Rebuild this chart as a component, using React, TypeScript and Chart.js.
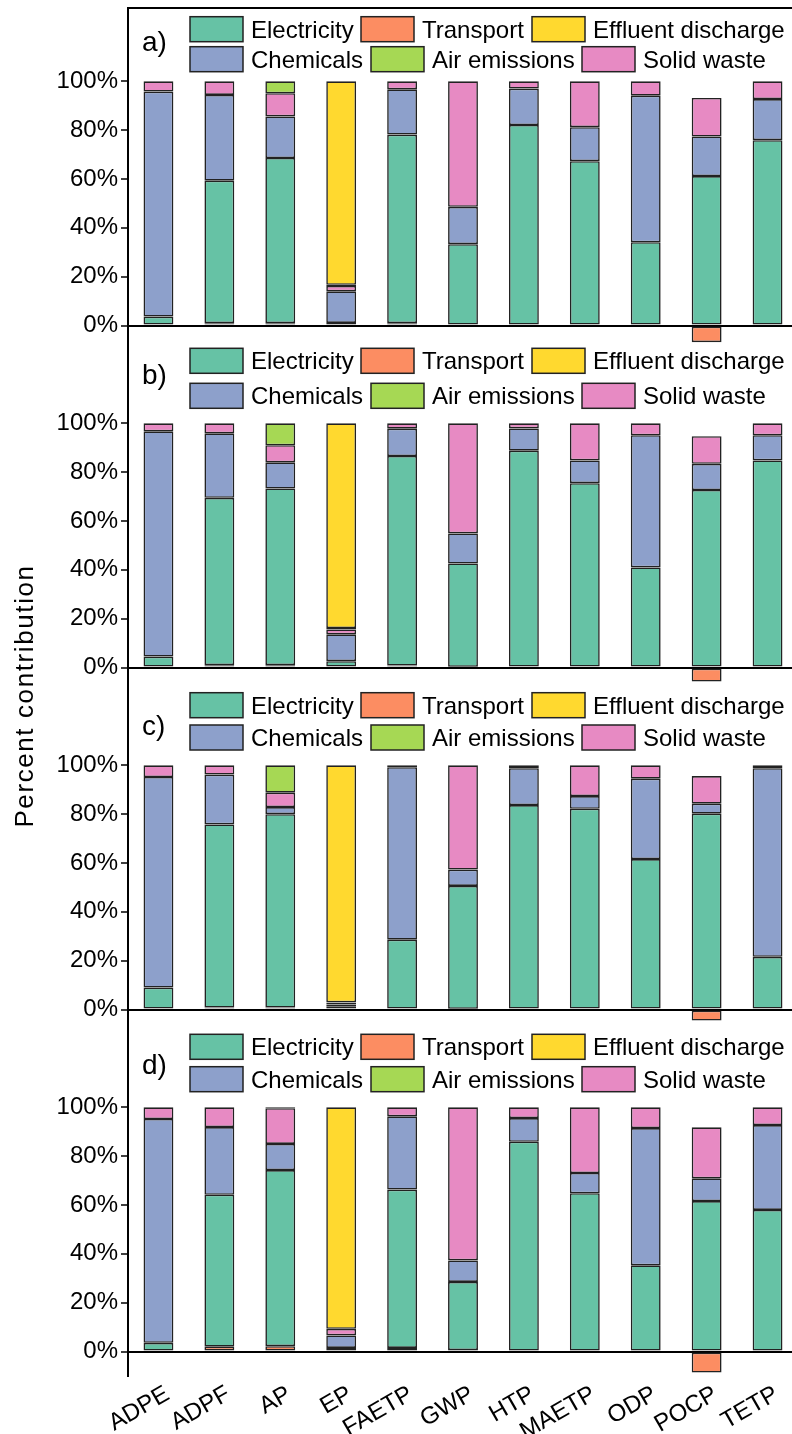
import { useEffect, useRef } from 'react';
import { Chart, registerables } from 'chart.js';

Chart.register(...registerables);

const categories = ['ADPE', 'ADPF', 'AP', 'EP', 'FAETP', 'GWP', 'HTP', 'MAETP', 'ODP', 'POCP', 'TETP'];
const panelLabels = ['a)', 'b)', 'c)', 'd)'];
const yTickValues = [0, 20, 40, 60, 80, 100];
const yTitle = 'Percent contribution';

// Panel a
const electricityA = [3.7, 58.3, 67.6, 1.1, 77.2, 32.9, 82.1, 67.3, 34.1, 61.2, 75.9];
const transportA = [0, 1.0, 1.0, 0, 1.0, 0.4, 0, 0, 0, -6.8, 0];
const effluentA = [0, 0, 0, 83.3, 0, 0, 0, 0, 0, 0, 0];
const chemicalsA = [92.1, 35.1, 17.0, 12.9, 18.5, 15.3, 14.9, 13.9, 60.0, 16.2, 16.8];
const airA = [0, 0, 4.9, 0.5, 0, 0, 0, 0, 0, 0, 0];
const solidA = [4.2, 5.6, 9.5, 2.2, 3.3, 51.4, 3.0, 18.8, 5.9, 15.8, 7.3];

// Panel b
const electricityB = [4.5, 68.5, 72.3, 2.6, 85.8, 42.3, 88.8, 75.5, 41.0, 72.7, 84.8];
const transportB = [0, 1.0, 1.0, 0, 0.8, 0.3, 0, 0, 0, -5.7, 0];
const effluentB = [0, 0, 0, 83.8, 0, 0, 0, 0, 0, 0, 0];
const chemicalsB = [92.2, 26.4, 10.7, 11.0, 11.2, 12.3, 9.1, 9.3, 54.1, 10.7, 10.3];
const airB = [0, 0, 9.0, 0.6, 0, 0, 0, 0, 0, 0, 0];
const solidB = [3.3, 4.1, 7.0, 2.0, 2.2, 45.1, 2.1, 15.2, 4.9, 11.3, 4.9];

// Panel c
const electricityC = [9.0, 75.0, 79.2, 1.2, 28.6, 50.3, 83.7, 82.2, 61.6, 80.2, 21.6];
const transportC = [0, 0.8, 0.8, 0, 0, 0.3, 0, 0, 0, -4.5, 0];
const effluentC = [0, 0, 0, 97.0, 0, 0, 0, 0, 0, 0, 0];
const chemicalsC = [86.2, 20.4, 2.9, 0.9, 70.6, 6.7, 15.1, 5.2, 32.9, 4.1, 77.2];
const airC = [0, 0, 11.2, 0.2, 0, 0, 0, 0, 0, 0, 0];
const solidC = [4.8, 3.8, 5.9, 0.7, 0.8, 42.7, 1.2, 12.6, 5.5, 11.3, 1.2];

// Panel d
const electricityD = [3.6, 62.2, 72.1, 1.5, 64.8, 27.9, 85.9, 64.8, 35.3, 61.6, 58.0];
const transportD = [0, 2.0, 2.2, 0, 1.5, 0.6, 0, 0, 0, -8.6, 0];
const effluentD = [0, 0, 0, 90.7, 0, 0, 0, 0, 0, 0, 0];
const chemicalsD = [91.6, 27.7, 10.7, 5.1, 30.0, 8.8, 9.7, 8.3, 56.2, 9.3, 34.7];
const airD = [0, 0, 0.4, 0, 0, 0, 0, 0, 0, 0, 0];
const solidD = [4.8, 8.1, 14.6, 2.7, 3.7, 62.7, 4.4, 26.9, 8.5, 20.9, 7.3];

const COLORS: Record<string, string> = {
  'Electricity': '#66c2a5',
  'Transport': '#fc8d62',
  'Effluent discharge': '#ffd92f',
  'Chemicals': '#8da0cb',
  'Air emissions': '#a6d854',
  'Solid waste': '#e78ac3',
};

const legendRow1 = ['Electricity', 'Transport', 'Effluent discharge'];
const legendRow2 = ['Chemicals', 'Air emissions', 'Solid waste'];

const panels = [
  { id: 'ya', series: { 'Transport': transportA, 'Electricity': electricityA, 'Chemicals': chemicalsA, 'Solid waste': solidA, 'Air emissions': airA, 'Effluent discharge': effluentA } },
  { id: 'yb', series: { 'Transport': transportB, 'Electricity': electricityB, 'Chemicals': chemicalsB, 'Solid waste': solidB, 'Air emissions': airB, 'Effluent discharge': effluentB } },
  { id: 'yc', series: { 'Transport': transportC, 'Electricity': electricityC, 'Chemicals': chemicalsC, 'Solid waste': solidC, 'Air emissions': airC, 'Effluent discharge': effluentC } },
  { id: 'yd', series: { 'Transport': transportD, 'Electricity': electricityD, 'Chemicals': chemicalsD, 'Solid waste': solidD, 'Air emissions': airD, 'Effluent discharge': effluentD } },
];

const FONT = '"Liberation Sans", Arial, sans-serif';

// per-panel decoration offsets (relative to panel top)
const legendRowTop1 = [8.7, -1.7, 0.7, 0.3];
const legendRowTop2 = [38.7, 33.3, 33, 32.7];
const labelCenter = [35, 26, 35.5, 32];
const legendX1 = [190, 361, 532];
const legendX2 = [190, 371, 582];

const decorPlugin = {
  id: 'panelDecor',
  afterDraw(chart: any) {
    const ctx = chart.ctx as CanvasRenderingContext2D;
    panels.forEach((p, i) => {
      const sc = chart.scales[p.id];
      const top = sc.top;
      ctx.save();
      ctx.fillStyle = '#000';
      ctx.font = `28px ${FONT}`;
      ctx.textAlign = 'left';
      ctx.textBaseline = 'middle';
      ctx.fillText(panelLabels[i], 142, top + labelCenter[i]);
      const drawRow = (names: string[], xs: number[], y: number) => {
        names.forEach((n, k) => {
          const x = xs[k];
          ctx.fillStyle = COLORS[n];
          ctx.fillRect(x, y, 53, 25);
          ctx.strokeStyle = '#222';
          ctx.lineWidth = 1.5;
          ctx.strokeRect(x, y, 53, 25);
          ctx.fillStyle = '#000';
          ctx.font = `24px ${FONT}`;
          ctx.textBaseline = 'alphabetic';
          ctx.fillText(n, x + 61, y + 12.5 + 8.5);
        });
      };
      drawRow(legendRow1, legendX1, top + legendRowTop1[i]);
      drawRow(legendRow2, legendX2, top + legendRowTop2[i]);
      ctx.restore();
    });
    // y axis title
    const area = chart.chartArea;
    ctx.save();
    ctx.fillStyle = '#000';
    ctx.font = `26px ${FONT}`;
    (ctx as any).letterSpacing = '1.6px';
    ctx.textAlign = 'center';
    ctx.textBaseline = 'alphabetic';
    ctx.translate(33, (area.top + area.bottom) / 2 + 4);
    ctx.rotate(-Math.PI / 2);
    ctx.fillText(yTitle, 0, 0);
    ctx.restore();
  },
};

export default function App() {
  const ref = useRef<HTMLCanvasElement | null>(null);
  useEffect(() => {
    if (!ref.current) return;
    const order = ['Transport', 'Electricity', 'Chemicals', 'Solid waste', 'Air emissions', 'Effluent discharge'];
    const datasets: any[] = [];
    panels.forEach((p) => {
      order.forEach((name) => {
        const vals = (p.series as any)[name] as number[];
        datasets.push({
          label: name,
          data: vals.map((v) => (v === 0 ? null : v)),
          backgroundColor: COLORS[name],
          borderColor: '#222',
          borderWidth: 1.6,
          borderSkipped: false,
          yAxisID: p.id,
          xAxisID: 'x',
          stack: 's',
          barPercentage: 0.49,
          categoryPercentage: 1.0,
        });
      });
    });
    const scales: any = {
      x: {
        type: 'category',
        position: 'bottom',
        stacked: true,
        grid: { display: false },
        border: { display: false },
        ticks: {
          font: { family: FONT, size: 24 },
          color: '#000',
          minRotation: 30,
          maxRotation: 30,
          autoSkip: false,
          padding: -4,
          labelOffset: 9,
        },
        afterFit: (s: any) => { s.height = 58; },
      },
    };
    // left stacked axes are laid out in reverse definition order: define bottom panel first
    [...panels].reverse().forEach((p) => {
      const i = panels.indexOf(p);
      scales[p.id] = {
        type: 'linear',
        position: 'left',
        stack: 'panels',
        stackWeight: 1,
        stacked: true,
        min: -10,
        max: 130,
        afterBuildTicks: (s: any) => {
          const vals = i === 0 ? [...yTickValues, 130] : yTickValues;
          s.ticks = vals.map((v) => ({ value: v }));
        },
        afterFit: (s: any) => {
          s.width = 128;
          s.paddingTop = 0;
          s.paddingBottom = 0;
        },
        ticks: {
          font: { family: FONT, size: 24 },
          color: '#000',
          padding: 3,
          autoSkip: false,
          callback: (v: any) => (v === 130 ? '' : `${v}%`),
        },
        grid: {
          drawOnChartArea: true,
          color: (c: any) => (c.tick && (c.tick.value === 0 || c.tick.value === 130) ? '#000' : 'rgba(0,0,0,0)'),
          lineWidth: 2,
          tickColor: (c: any) => (c.tick && c.tick.value === 130 ? 'rgba(0,0,0,0)' : '#000'),
          tickLength: 7,
          tickWidth: 1.5,
        },
        border: { display: true, color: '#000', width: 2 },
      };
    });
    const chart = new Chart(ref.current, {
      type: 'bar',
      data: { labels: categories, datasets },
      options: {
        animation: false,
        responsive: false,
        maintainAspectRatio: false,
        layout: { padding: { top: 8, right: 10, left: 0, bottom: 0 } },
        plugins: { legend: { display: false }, tooltip: { enabled: false }, title: { display: false } },
        scales,
      },
      plugins: [decorPlugin],
    });
    return () => chart.destroy();
  }, []);
  return (
    <div style={{ position: 'absolute', left: 0, top: 0, width: 792, height: 1434, overflow: 'hidden', background: '#fff' }}>
      <canvas ref={ref} width={808} height={1434} style={{ width: 808, height: 1434, display: 'block' }} />
    </div>
  );
}
